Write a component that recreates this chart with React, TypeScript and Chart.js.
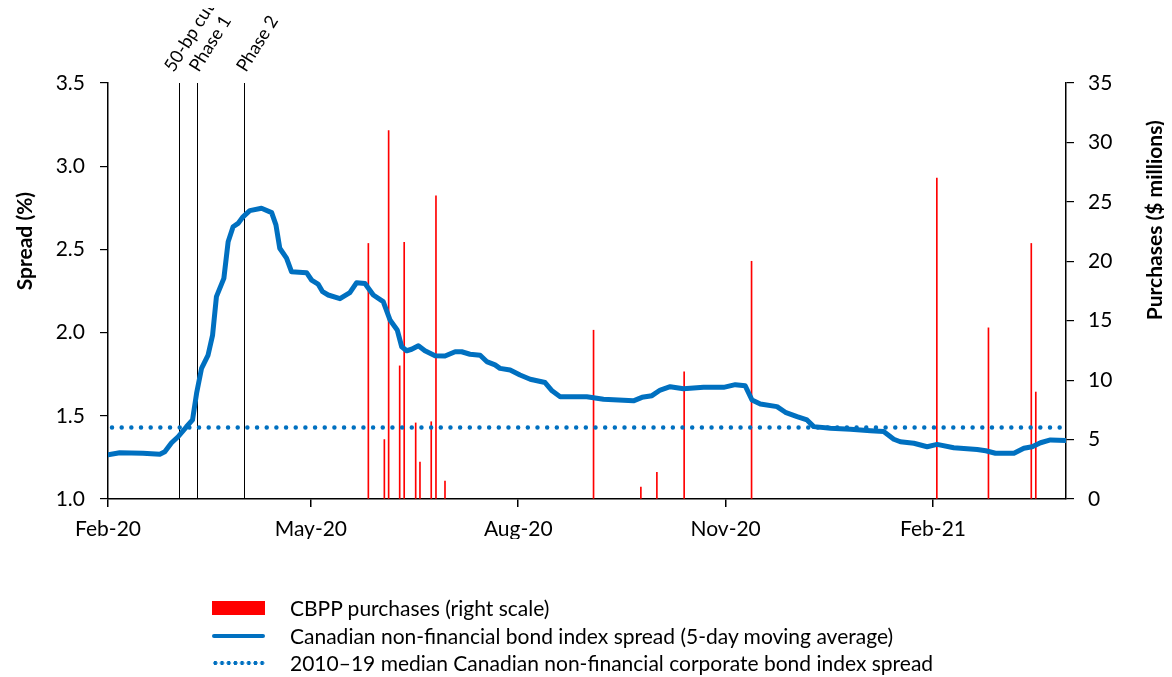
import React, { useEffect, useRef } from 'react';
import { Chart, registerables } from 'chart.js';

Chart.register(...registerables);

// x values are days since 1 Feb 2020
const xTickDays = [0, 90, 182, 274, 366];
const xTickLabels = ['Feb-20', 'May-20', 'Aug-20', 'Nov-20', 'Feb-21'];
const xMax = 425;

const spreadDays = [
  0, 5.2, 15.5, 23, 25.2, 28.2, 31.1, 34.8, 37.5, 39.3, 41.5, 44.4, 46.4, 48.1, 51.4, 53.3, 55.5, 57.7, 59.9, 62.9,
  68.1, 72.6, 74.5, 76.2, 79.2, 81.4, 88.1, 90.3, 93.2, 95.2, 97.7, 102.9, 107.3, 110.3, 114, 117.7, 122.1, 125.1,
  128.3, 130.3, 132.5, 134.7, 137.7, 140.6, 145.1, 149.5, 154, 156.9, 160.6, 165.1, 168, 171.7, 173.9, 178.4, 182.8,
  187.3, 193.9, 197, 200.6, 212.4, 219.8, 233.1, 236.9, 241.3, 245, 249.4, 255.3, 264.2, 273.1, 278.3, 282.7, 285.7,
  289.4, 296.8, 300.5, 305.7, 310.1, 313.1, 320.5, 329.4, 338.3, 344.1, 348.6, 351.5, 357.5, 363.4, 367.8, 375.2,
  385.6, 389.4, 393.7, 401.9, 406.3, 410, 413.7, 418.1, 425,
];
const spreadValues = [
  1.265, 1.278, 1.275, 1.269, 1.284, 1.338, 1.374, 1.434, 1.475, 1.635, 1.785, 1.865, 1.985, 2.216, 2.326, 2.546,
  2.636, 2.656, 2.696, 2.733, 2.747, 2.721, 2.647, 2.507, 2.447, 2.366, 2.36, 2.316, 2.292, 2.246, 2.226, 2.204, 2.24,
  2.3, 2.295, 2.226, 2.186, 2.076, 2.016, 1.915, 1.891, 1.9, 1.921, 1.891, 1.861, 1.859, 1.885, 1.885, 1.87, 1.864,
  1.826, 1.806, 1.785, 1.775, 1.745, 1.72, 1.7, 1.65, 1.615, 1.615, 1.6, 1.59, 1.611, 1.621, 1.655, 1.675, 1.663,
  1.671, 1.671, 1.687, 1.68, 1.595, 1.571, 1.555, 1.521, 1.495, 1.475, 1.435, 1.425, 1.419, 1.41, 1.405, 1.359,
  1.344, 1.335, 1.314, 1.328, 1.308, 1.298, 1.29, 1.275, 1.275, 1.305, 1.314, 1.338, 1.355, 1.351,
];

const purchaseDays = [
  115.5, 122.6, 124.5, 129.4, 131.4, 136.5, 138.4, 143.4, 145.5, 149.5, 215.4, 236.4, 243.5, 255.6, 285.5, 367.7,
  390.6, 409.6, 411.6,
];
const purchaseValues = [21.5, 5.0, 31.0, 11.2, 21.6, 6.4, 3.1, 6.5, 25.5, 1.5, 14.2, 1.0, 2.25, 10.7, 20.0, 27.0, 14.4, 21.5, 9.0];

const medianSpread = 1.43;

const eventDays = [31.4, 39.4, 60.3];
const eventLabels = ['50-bp cut', 'Phase 1', 'Phase 2'];

const legendLabels = [
  'CBPP purchases (right scale)',
  'Canadian non-financial bond index spread (5-day moving average)',
  '2010–19 median Canadian non-financial corporate bond index spread',
];

const BLUE = '#0070C0';
const RED = '#FF0000';
const FONT = 'Lato, "Open Sans", sans-serif';
const LABEL_DX = [-5, 2, 2];

const annotPlugin = {
  id: 'annot',
  beforeDatasetsDraw(chart: any) {
    const { ctx, chartArea, scales } = chart;
    ctx.save();
    ctx.strokeStyle = '#000';
    ctx.lineWidth = 1;
    eventDays.forEach((d) => {
      const x = Math.round(scales.x.getPixelForValue(d)) + 0.5;
      ctx.beginPath();
      ctx.moveTo(x, chartArea.top);
      ctx.lineTo(x, chartArea.bottom);
      ctx.stroke();
    });
    ctx.restore();
  },
  afterDraw(chart: any) {
    const { ctx, chartArea, scales } = chart;
    ctx.save();
    ctx.fillStyle = '#000';
    ctx.font = `18px ${FONT}`;
    ctx.textAlign = 'left';
    ctx.textBaseline = 'alphabetic';
    eventDays.forEach((d, i) => {
      const x = scales.x.getPixelForValue(d);
      ctx.save();
      ctx.translate(x + LABEL_DX[i], chartArea.top - 10);
      ctx.rotate((-58 * Math.PI) / 180);
      ctx.fillText(eventLabels[i], 0, 0);
      ctx.restore();
    });
    // axis titles
    ctx.font = `bold 21px ${FONT}`;
    ctx.textAlign = 'center';
    ctx.textBaseline = 'middle';
    const h = chartArea.bottom - chartArea.top;
    ctx.save();
    ctx.translate(17, chartArea.top + 0.38 * h);
    ctx.rotate(-Math.PI / 2);
    ctx.fillText('Spread (%)', 0, 0);
    ctx.restore();
    ctx.save();
    ctx.translate(chart.width - 9, chartArea.top + 0.33 * h);
    ctx.rotate(-Math.PI / 2);
    ctx.fillText('Purchases ($ millions)', 0, 0);
    ctx.restore();
    ctx.restore();
  },
};

export default function App() {
  const ref = useRef<HTMLCanvasElement>(null);

  useEffect(() => {
    let chart: Chart | null = null;
    let cancelled = false;
    const make = () => {
      if (cancelled || !ref.current) return;
      const tickFont = { family: FONT, size: 21 };
      chart = new Chart(ref.current, {
        type: 'line',
        data: {
          datasets: [
            {
              type: 'line',
              label: legendLabels[1],
              data: spreadDays.map((d, i) => ({ x: d, y: spreadValues[i] })),
              borderColor: BLUE,
              borderWidth: 5,
              pointRadius: 0,
              tension: 0,
              borderJoinStyle: 'round',
              borderCapStyle: 'round',
              yAxisID: 'y',
              order: 0,
            },
            {
              type: 'line',
              label: legendLabels[2],
              data: [
                { x: 0, y: medianSpread },
                { x: xMax, y: medianSpread },
              ],
              borderColor: BLUE,
              borderWidth: 4.5,
              borderDash: [0, 9.67],
              borderDashOffset: -4,
              borderCapStyle: 'round',
              pointRadius: 0,
              yAxisID: 'y',
              order: 1,
            },
            {
              type: 'bar',
              label: legendLabels[0],
              data: purchaseDays.map((d, i) => ({ x: d, y: purchaseValues[i] })),
              backgroundColor: RED,
              barThickness: 1,
              yAxisID: 'y1',
              order: 2,
            } as any,
          ],
        },
        options: {
          responsive: false,
          animation: false,
          devicePixelRatio: 1,
          layout: { padding: { top: 75, bottom: 130, left: 0, right: 0 } },
          plugins: { legend: { display: false }, tooltip: { enabled: false } },
          scales: {
            x: {
              type: 'linear',
              min: 0,
              max: xMax,
              offset: false,
              afterBuildTicks: (s: any) => {
                s.ticks = xTickDays.map((v) => ({ value: v }));
              },
              afterFit: (s: any) => {
                s.height = 40;
              },
              ticks: {
                autoSkip: false,
                maxRotation: 0,
                font: tickFont,
                color: '#000',
                padding: 10,
                callback: (_v: any, i: number) => xTickLabels[i],
              },
              grid: { offset: false, drawOnChartArea: false, tickLength: 8, color: '#000', lineWidth: 1.5 },
              border: { color: '#000', width: 1.5 },
            },
            y: {
              type: 'linear',
              position: 'left',
              min: 1,
              max: 3.5,
              afterFit: (s: any) => {
                s.width = 100;
              },
              ticks: {
                stepSize: 0.5,
                font: tickFont,
                color: '#000',
                padding: 15,
                callback: (v: any) => Number(v).toFixed(1),
              },
              grid: { drawOnChartArea: false, tickLength: 8, color: '#000', lineWidth: 1.2 },
              border: { color: '#000', width: 1.5 },
            },
            y1: {
              type: 'linear',
              position: 'right',
              min: 0,
              max: 35,
              afterFit: (s: any) => {
                s.width = 98;
              },
              ticks: { stepSize: 5, font: tickFont, color: '#000', padding: 14 },
              grid: { drawOnChartArea: false, tickLength: 8, color: '#000', lineWidth: 1.2 },
              border: { color: '#000', width: 1.5 },
            },
          },
        },
        plugins: [annotPlugin],
      } as any);
    };
    const fontsReady = (document as any).fonts
      ? Promise.all([
          (document as any).fonts.load(`21px Lato`),
          (document as any).fonts.load(`bold 21px Lato`),
        ]).catch(() => null)
      : Promise.resolve(null);
    fontsReady.then(make);
    return () => {
      cancelled = true;
      if (chart) chart.destroy();
    };
  }, []);

  const textStyle: React.CSSProperties = {
    position: 'absolute',
    left: 282,
    fontFamily: FONT,
    fontSize: 21,
    lineHeight: '24px',
    color: '#000',
    whiteSpace: 'nowrap',
  };

  return (
    <div style={{ position: 'relative', width: 1156, height: 669 }}>
      <style>{`html,body{overflow:hidden}`}</style>
      <canvas ref={ref} width={1156} height={661} style={{ display: 'block', width: 1156, height: 661 }} />
      <div style={{ position: 'absolute', left: 204, top: 593, width: 53, height: 14, background: RED }} />
      <div style={{ ...textStyle, top: 588 }}>{legendLabels[0]}</div>
      <div style={{ position: 'absolute', left: 204, top: 626, width: 53, height: 4, background: BLUE, borderRadius: 2 }} />
      <div style={{ ...textStyle, top: 616 }}>{legendLabels[1]}</div>
      <div
        style={{
          position: 'absolute',
          left: 204,
          top: 653,
          width: 53,
          height: 4,
          backgroundImage: `radial-gradient(circle, ${BLUE} 1.8px, transparent 2.2px)`,
          backgroundSize: '6.7px 4px',
        }}
      />
      <div style={{ ...textStyle, top: 643 }}>{legendLabels[2]}</div>
    </div>
  );
}
